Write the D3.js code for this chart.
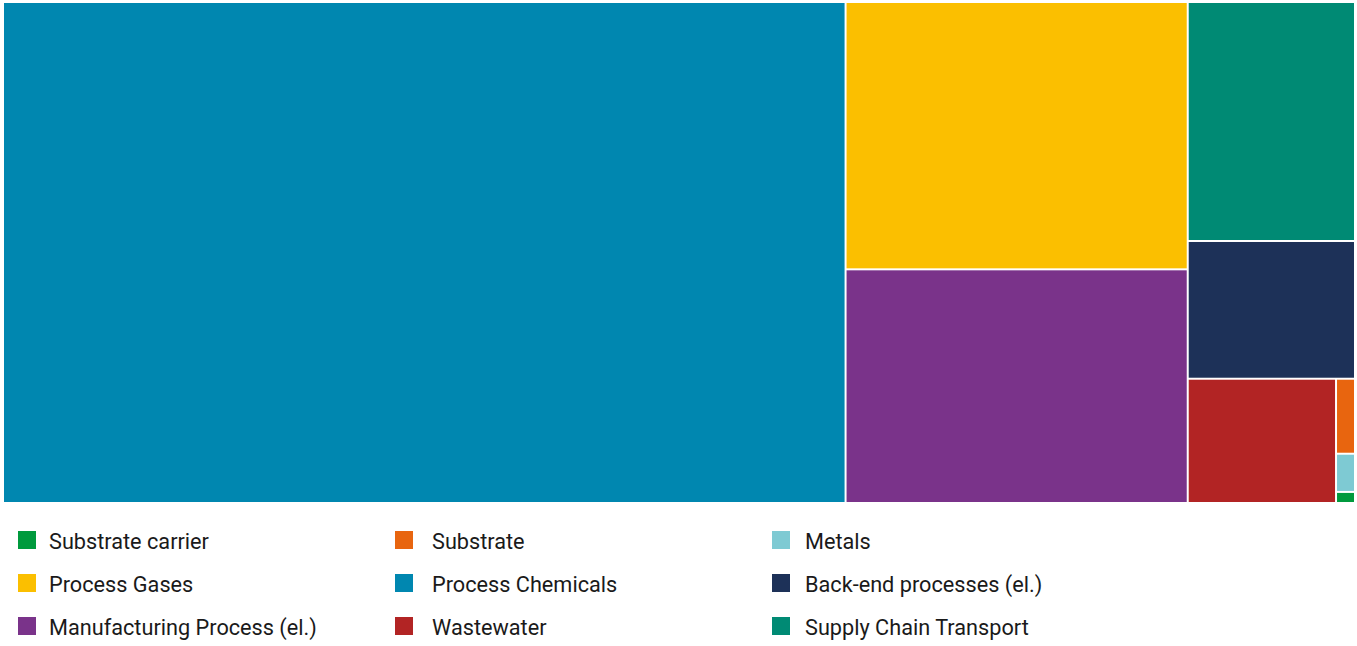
<!DOCTYPE html>
<html>
<head>
<meta charset="utf-8">
<script src="https://cdn.jsdelivr.net/npm/d3@7"></script>
<style>
  body { margin: 0; background: #fff; }
  svg { display: block; }
</style>
</head>
<body>
<svg></svg>
<script>
let width = 1357, height = 646;

// categories in legend order (row by row)
let categories = [
    "Substrate carrier", "Substrate", "Metals",
    "Process Gases", "Process Chemicals", "Back-end processes (el.)",
    "Manufacturing Process (el.)", "Wastewater", "Supply Chain Transport"
];
// share of total (%)
let shares = [0.031, 0.21, 0.107, 13.5, 62.3, 3.4, 11.8, 2.72, 5.9];
let colors = [
    "#009a3d", "#e8650f", "#7ecad3",
    "#fbbf00", "#0087b0", "#1d3158",
    "#7a338a", "#b22424", "#008a74"
];

let svg = d3.select("svg")
    .attr("width", width)
    .attr("height", height);

let colorScale = d3.scaleOrdinal()
    .domain(categories)
    .range(colors);

let data = categories.map((c, i) => ({ name: c, value: shares[i] }));

let root = d3.hierarchy({ children: data })
    .sum(d => d.value || 0)
    .sort((a, b) => b.value - a.value);

d3.treemap()
    .tile(d3.treemapSquarify)
    .size([1350, 499])
    .paddingInner(2)(root);

// Tiles
let tiles = svg.append("g")
    .attr("transform", "translate(4,3)");

tiles.selectAll("rect")
    .data(root.leaves())
    .enter()
    .append("rect")
    .attr("x", d => d.x0)
    .attr("y", d => d.y0)
    .attr("width", d => Math.max(0, d.x1 - d.x0))
    .attr("height", d => Math.max(0, d.y1 - d.y0))
    .attr("fill", d => colorScale(d.data.name));

// Legend
let colX = [18, 395, 772];
let textX = [49, 432, 805];
let rowY = [540, 583, 626];

let legenditem = svg.append("g")
    .attr("id", "legend")
    .selectAll(".legenditem")
    .data(categories)
    .enter()
    .append("g")
    .attr("class", "legenditem");

legenditem.append("rect")
    .attr("x", (d, i) => colX[i % 3])
    .attr("y", (d, i) => rowY[Math.floor(i / 3)] - 9)
    .attr("width", 18)
    .attr("height", 18)
    .attr("fill", d => colorScale(d));

legenditem.append("text")
    .attr("x", (d, i) => textX[i % 3])
    .attr("y", (d, i) => rowY[Math.floor(i / 3)] + 9)
    .style("font-family", "Roboto, sans-serif")
    .style("font-size", "21.7px")
    .style("fill", "#1a1a1a")
    .text(d => d);
</script>
</body>
</html>
